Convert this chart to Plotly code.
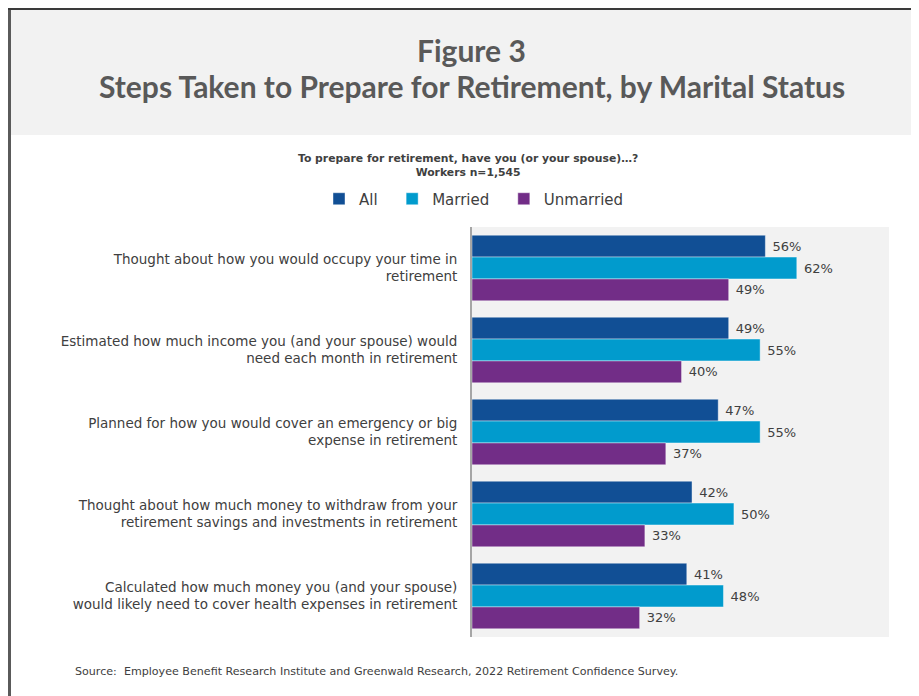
import plotly.graph_objects as go

categories = [
    "Thought about how you would occupy your time in<br>retirement",
    "Estimated how much income you (and your spouse) would<br>need each month in retirement",
    "Planned for how you would cover an emergency or big<br>expense in retirement",
    "Thought about how much money to withdraw from your<br>retirement savings and investments in retirement",
    "Calculated how much money you (and your spouse)<br>would likely need to cover health expenses in retirement",
]
series_names = ["All\u00a0\u00a0", "Married\u00a0\u00a0", "Unmarried"]
all_vals = [56, 49, 47, 42, 41]
married_vals = [62, 55, 55, 50, 48]
unmarried_vals = [49, 40, 37, 33, 32]
colors = ["#114f95", "#019bcd", "#722d87"]

OFF = 8  # page body margin
W, H = 919 - OFF, 696 - OFF
# plot area in screen pixels
SL, SR, ST, SB = 472, 889, 227, 637
L, R, T, B = SL - OFF, SR - OFF, ST - OFF, SB - OFF
pw, ph = R - L, B - T

def px(x):
    return (x - SL) / pw

def py(y):
    return (SB - y) / ph

fig = go.Figure()
for name, vals, col in zip(series_names, [all_vals, married_vals, unmarried_vals], colors):
    fig.add_trace(go.Bar(
        y=categories, x=vals, name=name, orientation="h",
        marker=dict(color=col, line=dict(color="rgba(255,255,255,0.6)", width=0.7)),
        texttemplate="\u00a0%{x}%",
        textposition="outside",
        textfont=dict(family="DejaVu Sans", size=13, color="#404040"),
        cliponaxis=False,
    ))

fig.update_layout(
    width=W, height=H,
    margin=dict(l=L, r=W - R, t=T, b=H - B, autoexpand=False),
    paper_bgcolor="white",
    plot_bgcolor="#f2f2f2",
    barmode="group",
    bargap=0.2,
    bargroupgap=0,
    showlegend=True,
    legend=dict(
        orientation="h", x=px(474), y=py(199), xanchor="center", yanchor="middle",
        font=dict(family="DejaVu Sans", size=15, color="#404040"),
        bgcolor="rgba(0,0,0,0)", traceorder="normal",
    ),
    xaxis=dict(range=[0, 79.6], showgrid=False, zeroline=False, showticklabels=False,
               showline=False, fixedrange=True),
    yaxis=dict(autorange="reversed", showgrid=False, zeroline=False,
               showline=True, linecolor="#a6a6a6", linewidth=2,
               ticks="", ticklabelstandoff=10,
               tickfont=dict(family="DejaVu Sans", size=13.5, color="#404040")),
    shapes=[
        dict(type="rect", xref="paper", yref="paper",
             x0=px(8), x1=px(940), y0=py(135), y1=py(0),
             fillcolor="#f2f2f2", line=dict(width=0), layer="below"),
        dict(type="line", xref="paper", yref="paper",
             x0=px(9.5), x1=px(9.5), y0=py(720), y1=py(0),
             line=dict(color="#5a5a5a", width=3)),
        dict(type="line", xref="paper", yref="paper",
             x0=px(8), x1=px(940), y0=py(9), y1=py(9),
             line=dict(color="#3a3a3a", width=2)),
    ],
    annotations=[
        dict(text="<b>Figure 3</b>", xref="paper", yref="paper", x=px(471.5), y=py(50),
             xanchor="center", yanchor="middle", showarrow=False,
             font=dict(family="Lato", size=30, color="#595959")),
        dict(text="<b>Steps Taken to Prepare for Retirement, by Marital Status</b>",
             xref="paper", yref="paper", x=px(471.5), y=py(86),
             xanchor="center", yanchor="middle", showarrow=False,
             font=dict(family="Lato", size=30, color="#595959")),
        dict(text="<b>To prepare for retirement, have you (or your spouse)\u2026?</b><br><b>Workers n=1,545</b>",
             xref="paper", yref="paper", x=px(468), y=py(165.5),
             xanchor="center", yanchor="middle", showarrow=False,
             font=dict(family="DejaVu Sans", size=10.8, color="#404040")),
        dict(text="Source:  Employee Benefit Research Institute and Greenwald Research, 2022 Retirement Confidence Survey.",
             xref="paper", yref="paper", x=px(73), y=py(671),
             xanchor="left", yanchor="middle", showarrow=False,
             font=dict(family="DejaVu Sans", size=11.1, color="#404040")),
    ],
)

fig.write_html("out.html")
